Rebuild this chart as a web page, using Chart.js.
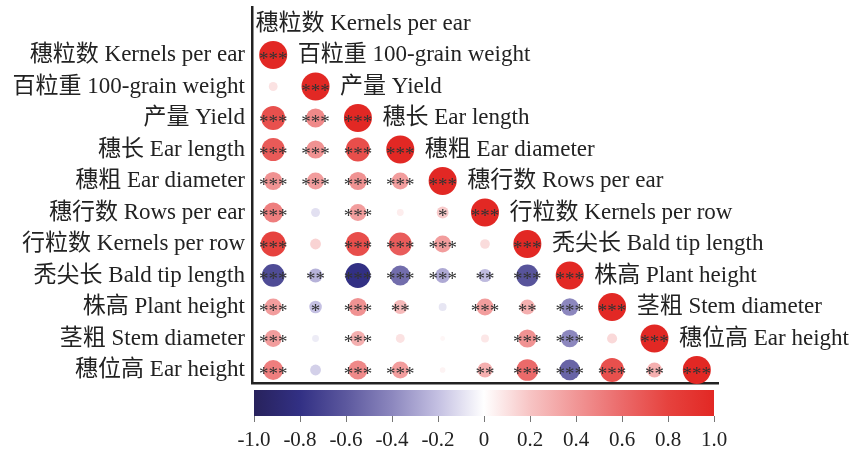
<!DOCTYPE html>
<html>
<head>
<meta charset="utf-8">
<script src="https://cdn.jsdelivr.net/npm/chart.js@4/dist/chart.umd.min.js"></script>
<style>
  html, body { margin: 0; padding: 0; background: #fff; }
  #wrap { position: relative; width: 852px; height: 457px; }
  #wrap canvas { position: absolute; left: 0; top: 0; }
</style>
</head>
<body>
<div id="wrap">
  <canvas id="corr" width="852" height="457"></canvas>
  <canvas id="bar" width="852" height="457"></canvas>
</div>
<script>
// traits
const traitsZh = ['穗粒数', '百粒重', '产量', '穗长', '穗粗', '穗行数', '行粒数', '秃尖长', '株高', '茎粗', '穗位高'];
const traitsEn = ['Kernels per ear', '100-grain weight', 'Yield', 'Ear length', 'Ear diameter', 'Rows per ear',
                  'Kernels per row', 'Bald tip length', 'Plant height', 'Stem diameter', 'Ear height'];

// lower triangle of the correlation matrix (diagonal included)
const corrRows = [
  [1],
  [0.10, 1],
  [0.73, 0.46, 1],
  [0.68, 0.42, 0.74, 1],
  [0.42, 0.37, 0.42, 0.37, 1],
  [0.51, -0.10, 0.37, 0.06, 0.18, 1],
  [0.80, 0.15, 0.74, 0.67, 0.37, 0.12, 1],
  [-0.66, -0.25, -0.80, -0.51, -0.28, -0.22, -0.62, 1],
  [0.37, -0.20, 0.42, 0.25, -0.08, 0.37, 0.29, -0.40, 1],
  [0.37, -0.06, 0.29, 0.10, 0.03, 0.08, 0.42, -0.40, 0.13, 1],
  [0.51, -0.15, 0.46, 0.37, 0.04, 0.29, 0.60, -0.55, 0.73, 0.29, 1]
];

// significance marks, same layout
const starRows = [
  ['***'],
  ['', '***'],
  ['***', '***', '***'],
  ['***', '***', '***', '***'],
  ['***', '***', '***', '***', '***'],
  ['***', '', '***', '', '*', '***'],
  ['***', '', '***', '***', '***', '', '***'],
  ['***', '**', '***', '***', '***', '**', '***', '***'],
  ['***', '*', '***', '**', '', '***', '**', '***', '***'],
  ['***', '', '***', '', '', '', '***', '***', '', '***'],
  ['***', '', '***', '***', '', '**', '***', '***', '***', '**', '***']
];

const barTicks = [-1.0, -0.8, -0.6, -0.4, -0.2, 0, 0.2, 0.4, 0.6, 0.8, 1.0];

// colour ramp navy - white - red
const rampStops = [
  [-1.0, [40, 34, 92]],
  [-0.8, [50, 48, 132]],
  [-0.6, [92, 88, 158]],
  [-0.4, [140, 135, 190]],
  [-0.2, [196, 192, 226]],
  [0.0, [255, 255, 255]],
  [0.2, [247, 196, 196]],
  [0.4, [241, 150, 150]],
  [0.6, [235, 106, 106]],
  [0.8, [230, 66, 62]],
  [1.0, [226, 40, 36]]
];

function rampColor(v) {
  for (let k = 1; k < rampStops.length; k++) {
    const [v1, c1] = rampStops[k];
    const [v0, c0] = rampStops[k - 1];
    if (v <= v1) {
      const t = (v - v0) / (v1 - v0);
      const c = c0.map((a, n) => Math.round(a + (c1[n] - a) * t));
      return `rgb(${c[0]},${c[1]},${c[2]})`;
    }
  }
  const c = rampStops[rampStops.length - 1][1];
  return `rgb(${c[0]},${c[1]},${c[2]})`;
}

const FONT = '"Liberation Serif", "Noto Sans CJK SC", serif';
const TEXT = '#222';
const MAX_R = 14;

const labels = traitsZh.map((z, i) => z + ' ' + traitsEn[i]);

const points = [];
corrRows.forEach((row, i) => row.forEach((v, j) => {
  points.push({ x: j, y: i, v: v, s: starRows[i][j] });
}));

// stars + diagonal labels
const cellText = {
  id: 'cellText',
  afterDatasetsDraw(chart) {
    const { ctx, scales: { x, y } } = chart;
    ctx.save();
    ctx.fillStyle = '#333';
    ctx.font = '19px ' + FONT;
    ctx.textAlign = 'center';
    ctx.textBaseline = 'alphabetic';
    points.forEach(p => {
      if (!p.s) return;
      ctx.fillText(p.s, x.getPixelForValue(p.x), y.getPixelForValue(p.y) + 10);
    });
    ctx.fillStyle = TEXT;
    ctx.font = '23px ' + FONT;
    ctx.textAlign = 'left';
    ctx.textBaseline = 'middle';
    labels.forEach((t, j) => {
      ctx.fillText(t, x.getPixelForValue(j - 0.42), y.getPixelForValue(j - 1));
    });
    ctx.restore();
  }
};

new Chart(document.getElementById('corr'), {
  type: 'bubble',
  data: {
    datasets: [{
      data: points,
      clip: false,
      borderWidth: 0,
      radius: c => MAX_R * Math.sqrt(Math.abs(c.raw.v)),
      hoverRadius: c => MAX_R * Math.sqrt(Math.abs(c.raw.v)),
      backgroundColor: c => rampColor(c.raw.v)
    }]
  },
  options: {
    responsive: false,
    animation: false,
    events: [],
    layout: { autoPadding: false, padding: { left: 0, right: 134, top: 7, bottom: 74 } },
    plugins: { legend: { display: false }, tooltip: { enabled: false } },
    scales: {
      x: {
        type: 'linear', min: -0.5, max: 10.5,
        grid: { display: false, drawTicks: false },
        ticks: { display: false },
        border: { display: true, width: 2.5, color: '#222' },
        afterFit: a => { a.height = 0; a.paddingLeft = 0; a.paddingRight = 0; }
      },
      y: {
        type: 'linear', reverse: true, min: -1.524, max: 10.413,
        grid: { display: false, drawTicks: false },
        border: { display: true, width: 2.5, color: '#222' },
        afterBuildTicks: a => { a.ticks = labels.map((_, i) => ({ value: i })); },
        afterFit: a => { a.width = 252; a.paddingTop = 0; a.paddingBottom = 0; },
        ticks: {
          padding: 7,
          color: TEXT,
          font: { family: FONT, size: 23 },
          callback: v => labels[v]
        }
      }
    }
  },
  plugins: [cellText]
});

// colour bar
const barFill = {
  id: 'barFill',
  beforeDatasetsDraw(chart) {
    const { ctx, chartArea: a, scales: { x } } = chart;
    const g = ctx.createLinearGradient(a.left, 0, a.right, 0);
    rampStops.forEach(([v, c]) => {
      g.addColorStop((x.getPixelForValue(v) - a.left) / (a.right - a.left), `rgb(${c[0]},${c[1]},${c[2]})`);
    });
    ctx.save();
    ctx.fillStyle = g;
    ctx.fillRect(a.left, a.top, a.right - a.left, a.bottom - a.top);
    ctx.restore();
  }
};

new Chart(document.getElementById('bar'), {
  type: 'scatter',
  data: { datasets: [{ data: [] }] },
  options: {
    responsive: false,
    animation: false,
    events: [],
    layout: { autoPadding: false, padding: { left: 254, right: 138, top: 390, bottom: 0 } },
    plugins: { legend: { display: false }, tooltip: { enabled: false } },
    scales: {
      x: {
        type: 'linear', min: -1, max: 1,
        afterBuildTicks: a => { a.ticks = barTicks.map(v => ({ value: v })); },
        afterFit: a => { a.height = 41; a.paddingLeft = 0; a.paddingRight = 0; },
        grid: { drawOnChartArea: false, drawTicks: true, tickLength: 6, color: '#777', lineWidth: 1 },
        border: { display: false },
        ticks: {
          padding: 6,
          maxRotation: 0,
          autoSkip: false,
          color: TEXT,
          font: { family: FONT, size: 21 },
          callback: v => (Math.abs(v) < 1e-9 ? '0' : v.toFixed(1))
        }
      },
      y: { display: false, min: 0, max: 1 }
    }
  },
  plugins: [barFill]
});
</script>
</body>
</html>
